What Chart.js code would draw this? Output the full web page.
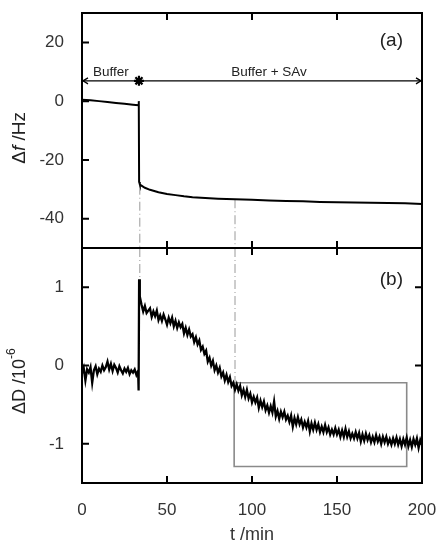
<!DOCTYPE html>
<html><head><meta charset="utf-8">
<script src="https://cdn.jsdelivr.net/npm/chart.js@4.4.0/dist/chart.umd.min.js"></script>
<style>html,body{margin:0;padding:0;background:#fff}canvas{display:block}</style>
</head><body>
<canvas id="c" width="438" height="550"></canvas>
<script>
// ---------- data ----------
const tTop = [0,5,10,15,20,25,30,33.3,33.4,33.6,34,35,37,40,45,50,55,60,65,70,80,90,100,110,120,130,140,150,160,170,180,190,200];
const fTop = [0.5,0.3,0.0,-0.3,-0.6,-0.9,-1.2,-1.4,0,-27.5,-28.3,-28.8,-29.5,-30.2,-31.0,-31.6,-32.0,-32.4,-32.7,-32.9,-33.2,-33.4,-33.6,-33.8,-34.0,-34.1,-34.3,-34.4,-34.5,-34.6,-34.7,-34.8,-35.0];

const tBot = [0,1,2,3,4,5,6,7,8,9,10,11,12,13,14,15,16,17,18,19,20,21,22,23,24,25,26,27,28,29,30,31,32,33,33.3,33.6,34,35,
36,37,38,39,40,41,42,43,44,45,46,47,48,49,50,51,52,53,54,55,56,57,58,59,60,61,62,63,64,65,66,67,68,69,70,71,72,73,74,75,76,77,78,79,
80,81,82,83,84,85,86,87,88,89,90,91,92,93,94,95,96,97,98,99,100,101,102,103,104,105,106,107,108,109,110,111,112,113,114,115,116,117,118,119,
120,121,122,123,124,125,126,127,128,129,130,131,132,133,134,135,136,137,138,139,140,141,142,143,144,145,146,147,148,149,150,151,152,153,154,155,156,157,158,159,
160,161,162,163,164,165,166,167,168,169,170,171,172,173,174,175,176,177,178,179,180,181,182,183,184,185,186,187,188,189,190,191,192,193,194,195,196,197,198,199,200];
const dBot = [-0.10,-0.03,-0.19,-0.05,-0.09,-0.02,-0.22,-0.06,-0.01,-0.11,-0.04,-0.08,0.00,-0.06,-0.02,0.05,-0.05,0.02,-0.07,0.01,-0.03,-0.09,-0.01,-0.06,-0.10,-0.04,-0.08,-0.03,-0.11,-0.06,-0.09,-0.05,-0.12,-0.07,-0.32,1.10,0.88,0.78,
0.69,0.76,0.67,0.70,0.73,0.62,0.69,0.63,0.70,0.58,0.64,0.57,0.65,0.59,0.52,0.61,0.54,0.61,0.50,0.57,0.48,0.55,0.49,0.53,0.41,0.48,0.39,0.46,0.37,0.40,0.30,0.36,0.27,0.32,0.20,0.24,0.15,0.19,0.05,0.10,0.00,0.06,-0.06,0.00,
-0.09,-0.03,-0.14,-0.09,-0.19,-0.12,-0.21,-0.15,-0.26,-0.22,-0.31,-0.24,-0.32,-0.26,-0.38,-0.31,-0.40,-0.31,-0.42,-0.36,-0.47,-0.40,-0.47,-0.41,-0.54,-0.45,-0.53,-0.46,-0.57,-0.51,-0.60,-0.52,-0.60,-0.46,-0.65,-0.58,-0.68,-0.59,-0.66,-0.59,
-0.69,-0.64,-0.72,-0.64,-0.78,-0.67,-0.75,-0.66,-0.75,-0.69,-0.79,-0.72,-0.79,-0.71,-0.84,-0.74,-0.82,-0.73,-0.82,-0.75,-0.85,-0.78,-0.85,-0.76,-0.85,-0.79,-0.88,-0.82,-0.88,-0.80,-0.88,-0.82,-0.91,-0.83,-0.91,-0.81,-0.91,-0.84,-0.93,-0.87,
-0.93,-0.85,-0.93,-0.86,-0.97,-0.88,-0.96,-0.87,-0.95,-0.89,-0.98,-0.91,-0.98,-0.89,-0.97,-0.91,-1.00,-0.91,-0.98,-0.91,-1.00,-0.94,-1.01,-0.93,-1.00,-0.92,-1.01,-0.94,-1.03,-0.94,-1.01,-0.92,-1.03,-0.95,-1.04,-0.94,-1.01,-0.93,-1.05,-0.95,-1.01];

const xTicks = [0, 50, 100, 150, 200];
const fTicks = [-40, -20, 0, 20];
const dTicks = [-1, 0, 1];
const markerT = [34, 90];          // dashed guide lines (min)
const markerF = [-28.8, -33.4];    // where they leave the Δf curve
const markerD = [1.1, -0.27];      // where they meet the ΔD curve
const boxT = [89.5, 191];          // grey box in panel (b)
const boxD = [-0.22, -1.29];
const phaseEdges = [0, 33.5, 200]; // buffer | buffer + SAv
const phaseLabels = ['Buffer', 'Buffer + SAv'];
const phaseLabelT = [17, 110];
const arrowF = 6.9;
const phaseLabelF = 9.7;
const panelLabels = ['(a)', '(b)'];

// ---------- chart ----------
const FONT = "'Liberation Sans', Arial, Helvetica, sans-serif";
const pts = (xs, ys) => xs.map((x, i) => ({x: x, y: ys[i]}));
const fixedTicks = arr => (s => { s.ticks = arr.map(v => ({value: v})); });

const datasets = [
  {data: pts(tTop, fTop), yAxisID: 'yf', borderColor: '#000', borderWidth: 2, order: 0},
  {data: pts(tBot, dBot), yAxisID: 'yd', borderColor: '#000', borderWidth: 2.3, order: 0},
  // grey box
  {data: pts([boxT[0], boxT[1], boxT[1], boxT[0], boxT[0]], [boxD[0], boxD[0], boxD[1], boxD[1], boxD[0]]),
   yAxisID: 'yd', borderColor: '#8a8a8a', borderWidth: 1.6, order: 3},
  // phase arrow
  {data: pts([phaseEdges[0], phaseEdges[2]], [arrowF, arrowF]), yAxisID: 'yf', borderColor: '#000', borderWidth: 1.2, order: 2},
  {data: pts([phaseEdges[1]], [arrowF]), yAxisID: 'yf', showLine: false, pointStyle: 'star', pointRadius: 5,
   pointBorderWidth: 2.2, pointBorderColor: '#000', order: 1},
];
markerT.forEach((t, i) => {
  datasets.push({data: pts([t, t], [markerF[i], -50]), yAxisID: 'yf', borderColor: '#9a9a9a', borderWidth: 1,
    borderDash: [9, 3, 1, 3], order: 4});
  datasets.push({data: pts([t, t], [1.5, markerD[i]]), yAxisID: 'yd', borderColor: '#9a9a9a', borderWidth: 1,
    borderDash: [9, 3, 1, 3], order: 4});
});
datasets.forEach(d => {
  if (d.showLine === undefined) d.showLine = true;
  if (d.pointRadius === undefined) d.pointRadius = 0;
});

const framePlugin = {
  id: 'frame',
  afterDatasetsDraw(chart) {
    const {ctx} = chart;
    const x = chart.scales.x, yf = chart.scales.yf, yd = chart.scales.yd;
    const L = x.left, R = x.right, tl = 7;
    ctx.save();
    ctx.strokeStyle = '#000';
    ctx.lineWidth = 2;
    ctx.strokeRect(L, yf.top, R - L, yf.bottom - yf.top);
    ctx.strokeRect(L, yd.top, R - L, yd.bottom - yd.top);
    ctx.beginPath();
    xTicks.slice(1, -1).forEach(v => {
      const px = x.getPixelForValue(v);
      ctx.moveTo(px, yf.top); ctx.lineTo(px, yf.top + tl);
      ctx.moveTo(px, yf.bottom - tl); ctx.lineTo(px, yf.bottom + tl);
      ctx.moveTo(px, yd.bottom); ctx.lineTo(px, yd.bottom - tl);
    });
    fTicks.forEach(v => {
      const py = yf.getPixelForValue(v);
      ctx.moveTo(L, py); ctx.lineTo(L + tl, py);
    });
    dTicks.forEach(v => {
      const py = yd.getPixelForValue(v);
      ctx.moveTo(L, py); ctx.lineTo(L + tl, py);
      ctx.moveTo(R, py); ctx.lineTo(R - tl, py);
    });
    ctx.stroke();

    // arrow heads at both ends of the phase arrow
    const ay = yf.getPixelForValue(arrowF);
    const xa = x.getPixelForValue(phaseEdges[0]), xb = x.getPixelForValue(phaseEdges[2]);
    ctx.lineWidth = 1.3;
    ctx.beginPath();
    ctx.moveTo(xa + 6, ay - 3); ctx.lineTo(xa + 1, ay); ctx.lineTo(xa + 6, ay + 3);
    ctx.moveTo(xb - 6, ay - 3); ctx.lineTo(xb - 1, ay); ctx.lineTo(xb - 6, ay + 3);
    ctx.stroke();

    // annotations
    ctx.fillStyle = '#222';
    ctx.textAlign = 'center';
    ctx.textBaseline = 'middle';
    ctx.font = '13.5px ' + FONT;
    phaseLabels.forEach((s, i) => ctx.fillText(s, x.getPixelForValue(phaseLabelT[i]), yf.getPixelForValue(phaseLabelF)));
    ctx.font = '19px ' + FONT;
    ctx.fillText(panelLabels[0], x.getPixelForValue(182), yf.getPixelForValue(20.6));
    ctx.fillText(panelLabels[1], x.getPixelForValue(182), yd.getPixelForValue(1.1));

    // y titles (mixed styles)
    const drawRot = (parts, cx, cy) => {
      ctx.save();
      ctx.translate(cx, cy);
      ctx.rotate(-Math.PI / 2);
      ctx.textAlign = 'left';
      ctx.textBaseline = 'middle';
      let w = 0;
      parts.forEach(p => { ctx.font = p.f; w += ctx.measureText(p.t).width; });
      let xx = -w / 2;
      parts.forEach(p => { ctx.font = p.f; ctx.fillText(p.t, xx, p.dy || 0); xx += ctx.measureText(p.t).width; });
      ctx.restore();
    };
    drawRot([{t: 'Δ', f: '19px ' + FONT}, {t: 'f', f: 'italic 19px ' + FONT}, {t: ' /Hz', f: '19px ' + FONT}],
      20, yf.getPixelForValue(-12.5));
    drawRot([{t: 'ΔD /10', f: '18px ' + FONT}, {t: '-6', f: '12px ' + FONT, dy: -8}],
      20, yd.getPixelForValue(-0.2));
    ctx.restore();
  }
};

const yCommon = {
  type: 'linear', position: 'left', stack: 'panels', stackWeight: 1,
  grid: {display: false}, border: {display: false},
  ticks: {padding: 10, color: '#333', font: {family: FONT, size: 17}},
  afterFit: s => { s.width = 82; s.paddingTop = 0; s.paddingBottom = 0; }
};

new Chart(document.getElementById('c'), {
  type: 'scatter',
  data: {datasets},
  plugins: [framePlugin],
  options: {
    responsive: false, animation: false,
    layout: {padding: {left: 0, right: 16, top: 13, bottom: 0}},
    plugins: {legend: {display: false}, tooltip: {enabled: false}},
    scales: {
      x: {type: 'linear', min: 0, max: 200,
        grid: {display: false}, border: {display: false},
        afterBuildTicks: fixedTicks(xTicks),
        afterFit: s => { s.height = 67; s.paddingLeft = 0; s.paddingRight = 0; },
        ticks: {padding: 9, color: '#333', font: {family: FONT, size: 17}},
        title: {display: true, text: 't /min', color: '#333', font: {family: FONT, size: 18}, padding: {top: 0, bottom: 4}}},
      yd: Object.assign({}, yCommon, {min: -1.5, max: 1.5, afterBuildTicks: fixedTicks(dTicks)}),
      yf: Object.assign({}, yCommon, {min: -50, max: 30, afterBuildTicks: fixedTicks(fTicks)})
    }
  }
});
</script>
</body></html>
